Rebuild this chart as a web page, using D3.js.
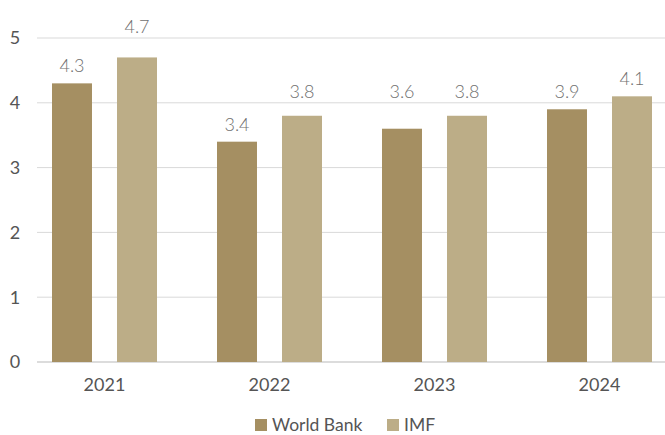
<!DOCTYPE html>
<html><head><meta charset="utf-8">
<script src="https://cdn.jsdelivr.net/npm/d3@7"></script>
<style>body{margin:0;background:#fff}svg{display:block;font-family:Lato,"Open Sans",sans-serif}</style>
</head><body><svg id="c" width="665" height="435"></svg>
<script>
const categories = ["2021","2022","2023","2024"];
const seriesNames = ["World Bank","IMF"];
const worldBank = [4.3,3.4,3.6,3.9];
const imf = [4.7,3.8,3.8,4.1];
const yTicks = [0,1,2,3,4,5];
const colors = ["#a58f62","#bcad87"];

const svg = d3.select("#c");
const y = d3.scaleLinear().domain([0,5]).range([362,38]);
const x0 = d3.scaleBand().domain(categories).range([22,682]);
const x1 = d3.scaleBand().domain(seriesNames).range([30,135]).paddingInner(0.385);
const values = [worldBank, imf];

// gridlines
svg.append("g").selectAll("line").data(yTicks).join("line")
  .attr("x1",37).attr("x2",665)
  .attr("y1",d=>y(d)).attr("y2",d=>y(d))
  .attr("stroke",d=>d===0?"#d0d0d0":"#d9d9d9").attr("stroke-width",d=>d===0?1.5:1);

// y labels
svg.append("g").selectAll("text").data(yTicks).join("text")
  .attr("x",15).attr("y",d=>y(d)).attr("dy","0.35em").attr("text-anchor","middle")
  .attr("font-size",18).attr("fill","#555").text(d=>d);

// label position: avoid the gridline just above the bar top
function labelY(v){
  const up = Math.ceil(v);
  if (up - v < 0.5 && up !== v) return y(up) - 5;
  return y(v) - 11;
}

// bars
seriesNames.forEach((s,si)=>{
  const g = svg.append("g");
  g.selectAll("rect").data(categories).join("rect")
    .attr("x",c=>x0(c)+x1(s)).attr("width",x1.bandwidth())
    .attr("y",(c,i)=>y(values[si][i])).attr("height",(c,i)=>y(0)-y(values[si][i]))
    .attr("fill",colors[si]);
  g.selectAll("text").data(categories).join("text")
    .attr("x",c=>x0(c)+x1(s)+x1.bandwidth()/2)
    .attr("y",(c,i)=>labelY(values[si][i]))
    .attr("text-anchor","middle").attr("font-size",18).attr("font-weight",300).attr("fill","#707070")
    .text((c,i)=>values[si][i].toFixed(1));
});

// x labels
svg.append("g").selectAll("text").data(categories).join("text")
  .attr("x",c=>x0(c)+x0.bandwidth()/2).attr("y",391)
  .attr("text-anchor","middle").attr("font-size",18).attr("fill","#555").text(c=>c);

// legend
const legX = [255,387];
const lg = svg.append("g");
seriesNames.forEach((s,i)=>{
  lg.append("rect").attr("x",legX[i]).attr("y",419).attr("width",12).attr("height",12).attr("fill",colors[i]);
  lg.append("text").attr("x",legX[i]+17).attr("y",425).attr("dy","0.35em")
    .attr("font-size",17.5).attr("fill","#555").text(s);
});
</script></body></html>
